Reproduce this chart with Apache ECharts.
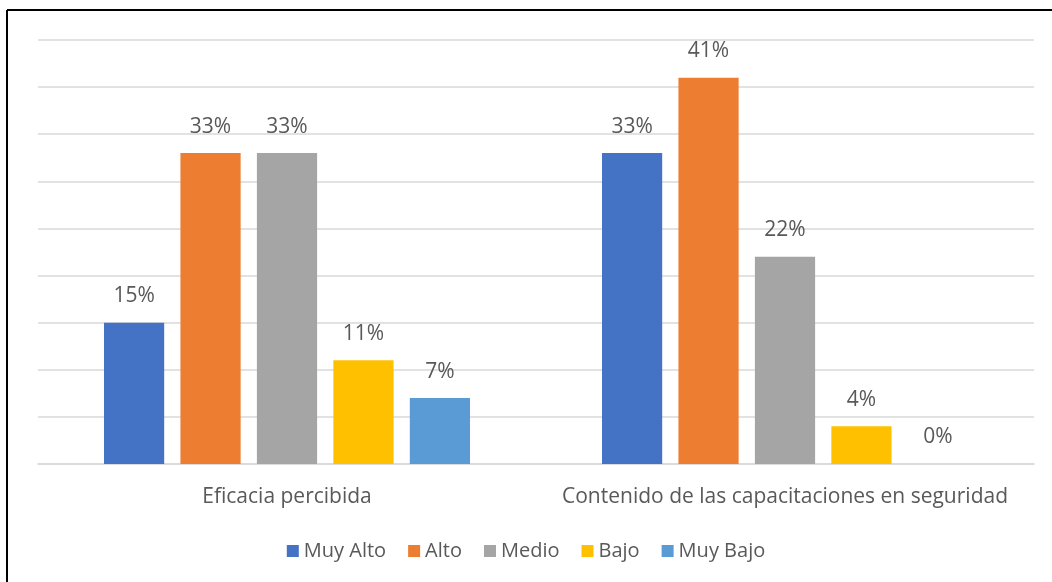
<!DOCTYPE html>
<html>
<head>
<meta charset="utf-8">
<script src="https://cdn.jsdelivr.net/npm/echarts@6/dist/echarts.min.js"></script>
<style>
  html, body { margin: 0; padding: 0; background: #ffffff; }
  #chart { width: 1052px; height: 582px; }
</style>
</head>
<body>
<div id="chart"></div>
<script>
// Categories on the x axis
const categories = ['Eficacia percibida', 'Contenido de las capacitaciones en seguridad'];

// One series per level, values in percent
const seriesNames = ['Muy Alto', 'Alto', 'Medio', 'Bajo', 'Muy Bajo'];
const muyAlto = [15, 33];
const alto = [33, 41];
const medio = [33, 22];
const bajo = [11, 4];
const muyBajo = [7, 0];

const seriesColors = ['#4472C4', '#ED7D31', '#A5A5A5', '#FFC000', '#5B9BD5'];
const FONT = 'Open Sans';
const TEXT = '#595959';

const values = [muyAlto, alto, medio, bajo, muyBajo];

const chart = echarts.init(document.getElementById('chart'), null, { renderer: 'canvas' });

chart.setOption({
  backgroundColor: '#ffffff',
  animation: false,
  textStyle: { fontFamily: FONT },
  grid: { left: 38, right: 18, top: 40, bottom: 118, containLabel: false },
  legend: {
    data: seriesNames,
    left: 'center',
    top: 536,
    itemWidth: 12,
    itemHeight: 12,
    itemGap: 22,
    icon: 'rect',
    textStyle: { fontFamily: FONT, fontSize: 20, color: TEXT }
  },
  xAxis: {
    type: 'category',
    data: categories,
    axisLine: { lineStyle: { color: '#d9d9d9', width: 1.5 } },
    axisTick: { show: false },
    axisLabel: { interval: 0, fontFamily: FONT, fontSize: 21, color: TEXT, margin: 23 }
  },
  yAxis: {
    type: 'value',
    min: 0,
    max: 45,
    interval: 5,
    axisLabel: { show: false },
    axisLine: { show: false },
    axisTick: { show: false },
    splitLine: { lineStyle: { color: '#d9d9d9', width: 1.5 } }
  },
  series: seriesNames.map((name, i) => ({
    name: name,
    type: 'bar',
    data: values[i],
    barGap: '27%',
    barCategoryGap: '26.5%',
    itemStyle: { color: seriesColors[i] },
    label: {
      show: true,
      position: 'top',
      distance: 16,
      formatter: '{c}%',
      fontFamily: FONT,
      fontSize: 21,
      color: TEXT
    }
  })),
  graphic: [
    { type: 'line', shape: { x1: 7, y1: 10, x2: 1052, y2: 10 }, style: { stroke: '#000000', lineWidth: 2 } },
    { type: 'line', shape: { x1: 7, y1: 10, x2: 7, y2: 582 }, style: { stroke: '#000000', lineWidth: 2 } }
  ]
});
</script>
</body>
</html>
